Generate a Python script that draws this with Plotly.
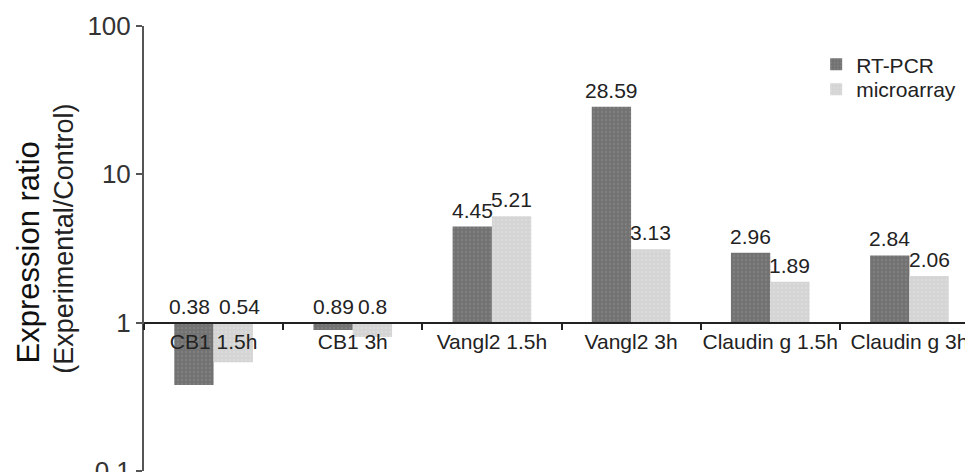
import math
import plotly.graph_objects as go

categories = ["CB1 1.5h", "CB1 3h", "Vangl2 1.5h", "Vangl2 3h", "Claudin g 1.5h", "Claudin g 3h"]
rt_pcr = [0.38, 0.89, 4.45, 28.59, 2.96, 2.84]
microarray = [0.54, 0.8, 5.21, 3.13, 1.89, 2.06]
series_names = ["RT-PCR", "microarray"]
y_tick_vals = [0.1, 1, 10, 100]
y_tick_text = ["0.1", "1", "10", "100"]

FONT = "Liberation Sans, Arial, sans-serif"
BASE = 1.0
BARGAP = 0.435

fig = go.Figure()
styles = [("#727272", "#8e8e8e"), ("#d4d4d4", "#e4e4e4")]
legends = ["legend", "legend2"]
for name, vals, (col, fg), lg in zip(series_names, [rt_pcr, microarray], styles, legends):
    fig.add_trace(go.Bar(
        name=name,
        x=categories,
        y=[v - BASE for v in vals],
        base=BASE,
        legend=lg,
        marker=dict(color=col, line=dict(width=0),
                    pattern=dict(shape=".", fgcolor=fg, size=4, solidity=0.25)),
    ))

# value labels
bw = (1 - BARGAP) / 2
offsets = [-bw / 2, bw / 2]
for k, (vals, off) in enumerate(zip([rt_pcr, microarray], offsets)):
    for i, v in enumerate(vals):
        both_low = rt_pcr[i] < BASE and microarray[i] < BASE and abs(rt_pcr[i] - microarray[i]) > 0.1
        nudge = (-4 if k == 0 else 6) if both_low else 0
        fig.add_annotation(
            x=i + off, y=math.log10(max(v, BASE)), xref="x", yref="y",
            text=f"{v:g}", showarrow=False, yanchor="bottom", xanchor="center",
            yshift=3, xshift=nudge, font=dict(family=FONT, size=21, color="#222"),
        )

# y-axis title (two lines with different sizes)
fig.add_annotation(x=0, y=0.49, xref="paper", yref="paper", xshift=-135,
                   text="Expression ratio", textangle=-90, showarrow=False,
                   font=dict(family=FONT, size=31, color="#111"))
fig.add_annotation(x=0, y=0.522, xref="paper", yref="paper", xshift=-97,
                   text="(Experimental/Control)", textangle=-90, showarrow=False,
                   font=dict(family=FONT, size=27, color="#222"))

legend_font = dict(family=FONT, size=21, color="#222")
fig.update_layout(
    width=973, height=472,
    margin=dict(l=136, r=2, t=18, b=9, autoexpand=False),
    paper_bgcolor="white", plot_bgcolor="white",
    barmode="group", bargap=BARGAP, bargroupgap=0,
    font=dict(family=FONT, color="#222"),
    showlegend=True,
    legend=dict(x=0.805, y=0.913, xanchor="left", yanchor="middle",
                font=legend_font, bgcolor="rgba(0,0,0,0)", itemwidth=30),
    legend2=dict(x=0.805, y=0.857, xanchor="left", yanchor="middle",
                 font=legend_font, bgcolor="rgba(0,0,0,0)", itemwidth=30),
    xaxis=dict(
        type="category", anchor="free", position=1 / 3,
        showline=True, linecolor="#222", linewidth=2,
        ticks="outside", tickson="boundaries", ticklen=6, tickwidth=2, tickcolor="#222",
        tickangle=0, automargin=False,
        tickfont=dict(family=FONT, size=21, color="#222"),
        showgrid=False, zeroline=False,
    ),
    yaxis=dict(
        type="log", range=[-1.001, 2.001],
        tickvals=y_tick_vals, ticktext=y_tick_text,
        showline=True, linecolor="#555", linewidth=2,
        ticks="outside", ticklen=6, tickwidth=2, tickcolor="#555",
        automargin=False, ticklabeloverflow="allow",
        tickfont=dict(family=FONT, size=26, color="#333"),
        showgrid=False, zeroline=False,
    ),
)

fig.write_html("out.html")
